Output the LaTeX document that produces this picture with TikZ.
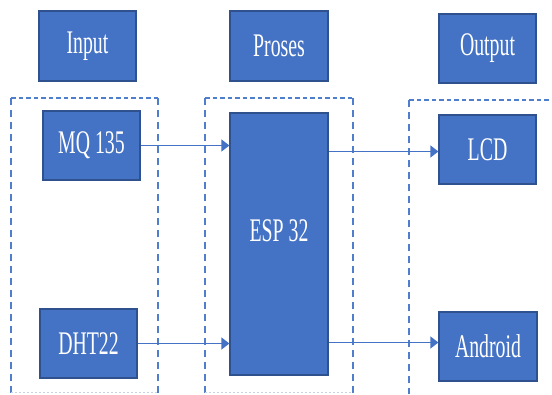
\documentclass[tikz,border=0pt]{standalone}
\usepackage{fontspec}
\setmainfont{Liberation Serif}
\usetikzlibrary{arrows.meta}
\definecolor{boxfill}{HTML}{4472C4}
\definecolor{boxline}{HTML}{2F528F}
\definecolor{dashc}{HTML}{4F7FCC}
\definecolor{dashlight}{HTML}{C8D3E6}
\newcommand{\narrowtxt}[1]{\scalebox{0.6}[1]{#1}}
\tikzset{
  blk/.style={draw=boxline, line width=1.2pt, fill=boxfill, text=white, inner sep=0pt,
    font=\fontsize{33}{36}\selectfont, anchor=center},
  dashv/.style={draw=dashc, line width=1.3pt, dash pattern=on 7pt off 5pt},
  dashh/.style={draw=dashc, line width=1.3pt, dash pattern=on 4.5pt off 3pt},
  dashb/.style={draw=dashlight, line width=1pt, dash pattern=on 2pt off 2pt},
  arr/.style={draw=boxfill, line width=1.2pt, -{Triangle[length=8pt,width=12pt]}},
}
\begin{document}
\begin{tikzpicture}[x=1pt,y=-1pt]
\useasboundingbox (0,0) rectangle (552,394);
% header boxes
\node[blk, minimum width=97pt, minimum height=70pt] (inh) at (87.5,46) {\narrowtxt{Input}};
\node[blk, minimum width=98pt, minimum height=70pt] (prh) at (279,46) {\narrowtxt{Proses}};
\node[blk, minimum width=97pt, minimum height=69pt] (outh) at (487.5,48.5) {\narrowtxt{Output}};
% dashed groups
\draw[dashh] (11,98) -- (158,98);
\draw[dashv] (11,98) -- (11,393);
\draw[dashv] (158,98) -- (158,393);
\draw[dashb] (11,392.5) -- (158,392.5);
\draw[dashh] (205,98) -- (353,98);
\draw[dashv] (205,98) -- (205,393);
\draw[dashv] (353,98) -- (353,393);
\draw[dashb] (205,392.5) -- (353,392.5);
\draw[dashh] (409,100) -- (552,100);
\draw[dashv] (409,100) -- (409,394);
% blocks
\node[blk, minimum width=97pt, minimum height=69pt] (mq) at (91.5,145.5) {\narrowtxt{MQ 135}};
\node[blk, minimum width=97pt, minimum height=69pt] (dht) at (88.5,343.5) {\narrowtxt{DHT22}};
\node[blk, minimum width=98pt, minimum height=262pt] (esp) at (279,244) {};
\node[text=white, font=\fontsize{33}{36}\selectfont, inner sep=0pt] (esplbl) at (279,231) {\narrowtxt{ESP 32}};
\node[blk, minimum width=97pt, minimum height=69pt] (lcd) at (487.5,149.5) {\narrowtxt{LCD}};
\node[blk, minimum width=98pt, minimum height=69pt] (andr) at (488,346.5) {\narrowtxt{Android}};
% connectors
\coordinate (lcdin) at ([yshift=-2pt]lcd.west);
\coordinate (andin) at ([yshift=4pt]andr.west);
\draw[arr] (mq.east) -- (mq.east -| esp.west);
\draw[arr] (dht.east) -- (dht.east -| esp.west);
\draw[arr] (esp.east |- lcdin) -- (lcdin);
\draw[arr] (esp.east |- andin) -- (andin);
\end{tikzpicture}
\end{document}
